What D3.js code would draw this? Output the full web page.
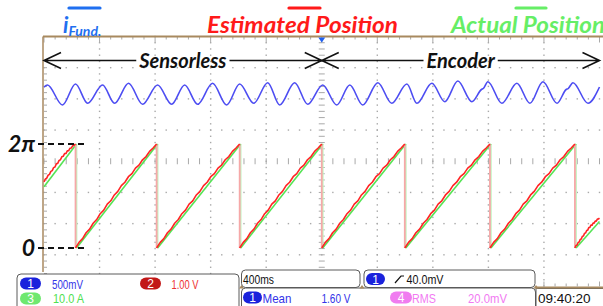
<!DOCTYPE html>
<html>
<head>
<meta charset="utf-8">
<script src="https://cdn.jsdelivr.net/npm/d3@7"></script>
<style>
  body { margin: 0; background: #fff; }
  svg { display: block; }
</style>
</head>
<body>
<script>
// time axis: 400 ms/div, trigger at centre
const timeDomain = [-2000, 2000];

// i_Fund. (ch1, 500 mV/div): extrema, [ms, V]
const currentPeaks = [
  [-1975, 1.222], [-1773, 1.238], [-1578, 1.222], [-1391, 1.250], [-1182, 1.222],
  [-987, 1.222], [-786, 1.250], [-591, 1.238], [-389, 1.259], [-195, 1.259],
  [7, 1.222], [202, 1.222], [404, 1.259], [613, 1.238], [793, 1.250],
  [980, 1.286], [1196, 1.275], [1405, 1.250], [1593, 1.275], [1809, 1.259]
];
const currentTroughs = [
  [-1867, 0.902], [-1686, 0.929], [-1492, 0.929], [-1290, 0.913], [-1081, 0.913],
  [-894, 0.913], [-685, 0.902], [-490, 0.929], [-303, 0.902], [-101, 0.913],
  [108, 0.902], [295, 0.902], [504, 0.929], [685, 0.929], [886, 0.955],
  [1081, 0.955], [1297, 0.929], [1499, 0.929], [1694, 0.929], [1917, 0.929]
];
const currentShoulders = [[1150, 1.15], [1165, 1.17], [1760, 1.15], [1774, 1.165]];
const currentEdges = [[-2000, 1.19], [2000, 1.19]];

// rotor position sawtooth: wrap instants (ms) and angles at screen edges (rad)
const estResets = [-1773, -1189, -591, 0, 598, 1211, 1823];
const actResets = [-1766, -1182, -584, 7, 605, 1218, 1831];
const estEdgeAngles = [4.0, 1.8];
const actEdgeAngles = [3.7, 1.6];
// small deviation of the estimate along each ramp (rad)
const estRipple = [0, 0.07, 0.02, 0.10, 0.05, 0.13, 0.08, 0.16, 0.10, 0.19, 0.12, 0.20,
  0.14, 0.22, 0.15, 0.21, 0.12, 0.18, 0.09, 0.14, 0.06, 0.10, 0.03, 0];

const angleLabels = [{ label: '0', v: 0 }, { label: '2π', v: 2 * Math.PI }];
const phases = [
  { name: 'Sensorless', from: -2000, to: 0 },
  { name: 'Encoder', from: 0, to: 2000 }
];
const legend = [
  { label: 'i', sub: 'Fund.', color: '#1f6ff0' },
  { label: 'Estimated Position', color: '#ff1a1a' },
  { label: 'Actual Position', color: '#66ee66' }
];
const chScales = [['1', '500mV'], ['2', '1.00 V'], ['3', '10.0 A']];
const timebase = '400ms';
const trigger = ['1', '40.0mV'];
const measures = [['1', 'Mean', '1.60 V'], ['4', 'RMS', '20.0mV']];
const clock = '09:40:20';

const W = 603, H = 306;
const frame = '#a8895f';
const grid = '#a9a9a9';
const col = { 1: '#1a22dc', 2: '#c21818', 3: '#6fe86f', 4: '#f07cf0' };
const txtCol = { 1: '#3434e8', 2: '#ee3030', 3: '#4fe04f', 4: '#f27af2' };
const FONT = "Lato, 'Open Sans', 'DejaVu Sans', sans-serif";
const PFONT = "'Liberation Sans', 'DejaVu Sans', sans-serif";

const plot = { left: 44, right: 599.5, top: 36.5, bottom: 286 };

const x = d3.scaleLinear().domain(timeDomain).range([plot.left, plot.right]);
const yDiv = d3.scaleLinear().domain([-4, 4]).range([plot.bottom, plot.top]);
const yCur = d3.scaleLinear().domain([-2, 2]).range([plot.bottom, plot.top]);
const yAng = d3.scaleLinear().domain([0, 2 * Math.PI]).range([248, 144]);

const svg = d3.select('body').append('svg')
  .attr('width', W)
  .attr('height', H)
  .style('font-family', FONT);

// ---- graticule
const majorX = d3.range(-2000, 2001, 400);
const minorX = d3.range(-2000, 2001, 80);
const majorY = d3.range(-4, 4.01, 1);
const minorY = d3.range(-4, 4.01, 0.2);

const g = svg.append('g');

majorX.filter(t => t !== 0 && t > -2000 && t < 2000).forEach(t => {
  g.selectAll(null).data(minorY).enter().append('rect')
    .attr('x', x(t) - 0.7).attr('y', d => yDiv(d) - 0.7)
    .attr('width', 1.4).attr('height', 1.4)
    .attr('fill', grid);
});
majorY.filter(v => v !== 0 && v > -4 && v < 4).forEach(v => {
  g.selectAll(null).data(minorX).enter().append('rect')
    .attr('x', d => x(d) - 0.7).attr('y', yDiv(v) - 0.7)
    .attr('width', 1.4).attr('height', 1.4)
    .attr('fill', grid);
});

// centre axes with minor ticks
g.selectAll(null).data(minorY).enter().append('line')
  .attr('x1', x(0) - 3).attr('x2', x(0) + 3)
  .attr('y1', d => yDiv(d)).attr('y2', d => yDiv(d))
  .attr('stroke', grid).attr('stroke-width', 1);
g.selectAll(null).data(minorX).enter().append('line')
  .attr('x1', d => x(d)).attr('x2', d => x(d))
  .attr('y1', yDiv(0) - 3).attr('y2', yDiv(0) + 3)
  .attr('stroke', grid).attr('stroke-width', 1);

// ticks hanging from top border and left border
g.selectAll(null).data(minorX).enter().append('line')
  .attr('x1', d => x(d)).attr('x2', d => x(d))
  .attr('y1', plot.top).attr('y2', d => plot.top + (d % 400 === 0 ? 6 : 3))
  .attr('stroke', grid);
g.selectAll(null).data(minorY.filter(v => v < 3.2)).enter().append('line')
  .attr('x1', plot.left).attr('x2', plot.left + 3)
  .attr('y1', d => yDiv(d)).attr('y2', d => yDiv(d))
  .attr('stroke', grid);

// frame
svg.append('line')
  .attr('x1', plot.left - 1).attr('x2', W)
  .attr('y1', plot.top).attr('y2', plot.top)
  .attr('stroke', frame).attr('stroke-width', 2);
svg.append('line')
  .attr('x1', plot.left - 1).attr('x2', plot.left - 1)
  .attr('y1', plot.top).attr('y2', 272)
  .attr('stroke', frame).attr('stroke-width', 1.5);

// trigger marker
svg.append('path')
  .attr('d', `M${x(0) - 3.5},${plot.top + 1}h7l-3.5,5z`)
  .attr('fill', '#2060f0');

// ---- position traces
function rampPoints(resets, edges, ripple) {
  const knots = [[timeDomain[0], edges[0]]];
  resets.forEach(t => { knots.push([t, 2 * Math.PI]); knots.push([t, 0]); });
  knots.push([timeDomain[1], edges[1]]);
  const ramps = [];
  for (let i = 0; i < knots.length; i += 2) {
    const [t0, a0] = knots[i], [t1, a1] = knots[i + 1];
    const pts = [];
    if (ripple) {
      ripple.forEach((r, k) => {
        const f = k / (ripple.length - 1);
        pts.push([t0 + f * (t1 - t0), a0 + f * (a1 - a0) + r]);
      });
    } else {
      pts.push([t0, a0], [t1, a1]);
    }
    ramps.push(pts);
  }
  return { ramps, drops: resets };
}

const line = d3.line().x(d => x(d[0])).y(d => yAng(d[1]));

function drawPosition(data, color, faint) {
  const gg = svg.append('g');
  gg.selectAll('line.drop').data(data.drops).enter().append('line')
    .attr('x1', d => x(d)).attr('x2', d => x(d))
    .attr('y1', yAng(2 * Math.PI)).attr('y2', yAng(0))
    .attr('stroke', faint).attr('stroke-width', 1.8);
  gg.selectAll('path').data(data.ramps).enter().append('path')
    .attr('d', line)
    .attr('fill', 'none')
    .attr('stroke', color)
    .attr('stroke-width', 1.6)
    .attr('stroke-linejoin', 'round');
}

drawPosition(rampPoints(actResets, actEdgeAngles, null), '#55e455', '#c4f5c4');
drawPosition(rampPoints(estResets, estEdgeAngles, estRipple), '#ff2424', '#f6a8a8');

// ---- current trace
const curPts = currentEdges.concat(currentPeaks, currentTroughs, currentShoulders)
  .sort((a, b) => a[0] - b[0]);
svg.append('path')
  .datum(curPts)
  .attr('d', d3.line().x(d => x(d[0])).y(d => yCur(d[1])).curve(d3.curveMonotoneX))
  .attr('fill', 'none')
  .attr('stroke', '#4d4df2')
  .attr('stroke-width', 1.6);

// ---- 0 / 2π annotations
angleLabels.forEach(a => {
  svg.append('line')
    .attr('x1', 38).attr('x2', 88)
    .attr('y1', yAng(a.v)).attr('y2', yAng(a.v))
    .attr('stroke', '#111').attr('stroke-width', 2)
    .attr('stroke-dasharray', '6,4');
  svg.append('text')
    .attr('x', 35).attr('y', yAng(a.v) + 8)
    .attr('text-anchor', 'end')
    .attr('font-size', 23).attr('font-weight', 'bold').attr('font-style', 'italic')
    .attr('fill', '#111')
    .text(a.label);
});

// ---- phase arrows
const arrowY = 60.5;
function head(xt, dir) {
  return `M${xt + dir * 17},${arrowY - 8}L${xt},${arrowY}L${xt + dir * 17},${arrowY + 8}`;
}
phases.forEach(p => {
  const x0 = x(p.from), x1 = x(p.to), xm = (x0 + x1) / 2;
  const t = svg.append('text')
    .attr('x', xm).attr('y', arrowY + 7)
    .attr('text-anchor', 'middle')
    .attr('font-size', 20).attr('font-weight', 'bold').attr('font-style', 'italic')
    .attr('fill', '#111')
    .text(p.name);
  const half = t.node().getComputedTextLength() / 2 + 3;
  svg.append('path')
    .attr('d', `M${x0},${arrowY}H${xm - half}M${xm + half},${arrowY}H${x1}` + head(x0, 1) + head(x1, -1))
    .attr('fill', 'none').attr('stroke', '#111').attr('stroke-width', 1.6);
});

// ---- legend
const lg = svg.append('g')
  .attr('font-weight', 'bold').attr('font-style', 'italic').attr('font-size', 22);
const legendPos = [{ x: 63, bar: [69, 100], len: null }, { x: 207, bar: [289, 320], len: 191 }, { x: 451, bar: [516, 546], len: 154 }];
legend.forEach((l, i) => {
  const p = legendPos[i];
  const t = lg.append('text').attr('x', p.x).attr('y', 33).attr('fill', l.color);
  t.append('tspan').text(l.label);
  if (l.sub) t.append('tspan').attr('font-size', 14).attr('dy', 3).text(l.sub);
  if (p.len) t.attr('textLength', p.len).attr('lengthAdjust', 'spacingAndGlyphs');
  lg.append('line')
    .attr('x1', p.bar[0]).attr('x2', p.bar[1])
    .attr('y1', 8).attr('y2', 8)
    .attr('stroke', l.color).attr('stroke-width', 3.2).attr('stroke-linecap', 'round');
});

// ---- status panel
const pn = svg.append('g').style('font-family', PFONT).attr('font-size', 13.5);

function box(x0, y0, w, h) {
  pn.append('rect')
    .attr('x', x0).attr('y', y0).attr('width', w).attr('height', h).attr('rx', 4)
    .attr('fill', '#fff').attr('stroke', '#5a5a5a').attr('stroke-width', 1);
}
function pill(x0, y0, ch, w) {
  pn.append('rect')
    .attr('x', x0).attr('y', y0).attr('width', w || 20).attr('height', 12).attr('rx', 6)
    .attr('fill', col[ch]);
  pn.append('text')
    .attr('x', x0 + (w || 20) / 2).attr('y', y0 + 10.5).attr('text-anchor', 'middle')
    .attr('fill', '#fff').attr('font-size', 12).text(ch);
}
// condensed scope font: squeeze horizontally only
function label(x0, y0, s, color, w) {
  const t = pn.append('text').attr('fill', color).text(s);
  const nat = t.node().getComputedTextLength();
  const k = w ? Math.min(1, w / nat) : 1;
  t.attr('transform', `translate(${x0},${y0}) scale(${k},1)`);
}

// bottom border right of panel
svg.append('line')
  .attr('x1', 536).attr('x2', W).attr('y1', 287.5).attr('y2', 287.5)
  .attr('stroke', frame).attr('stroke-width', 2);
svg.selectAll(null).data(minorX.filter(t => x(t) > 540)).enter().append('line')
  .attr('x1', d => x(d)).attr('x2', d => x(d))
  .attr('y1', 286.5).attr('y2', d => 286.5 - (d % 400 === 0 ? 5 : 3))
  .attr('stroke', grid);

const rowA = 288.5, rowB = 302.5;

box(17, 274, 222, 44);
pill(20, 277.5, chScales[0][0], 21);
label(52, rowA, chScales[0][1], txtCol[1], 31);
pill(140, 277.5, chScales[1][0], 21);
label(171.5, rowA, chScales[1][1], txtCol[2], 27);
pill(20, 292.5, chScales[2][0], 21);
label(53, rowB, chScales[2][1], txtCol[3], 31);

box(241.5, 270, 118.5, 17.5);
label(243, 283.5, timebase, '#111', 31);

box(364, 270, 171, 17.5);
pill(366, 273, trigger[0], 19);
pn.append('path')
  .attr('d', 'M395,283 L401,276 H404')
  .attr('fill', 'none').attr('stroke', '#111').attr('stroke-width', 1.2);
label(406.5, 283.5, trigger[1], '#111', 37);

box(241.5, 288, 294, 30);
pill(243, 291.5, measures[0][0], 19);
label(262.5, rowB, measures[0][1], txtCol[1], 29);
label(321.5, rowB, measures[0][2], txtCol[1], 29);
pill(390, 291.5, measures[1][0], 22);
label(412, rowB, measures[1][1], txtCol[4], 24);
label(468, rowB, measures[1][2], txtCol[4], 39);

pn.append('rect')
  .attr('x', 536).attr('y', 288.5).attr('width', 80).attr('height', 30)
  .attr('fill', '#fff').attr('stroke', '#5a5a5a');
label(538, rowB, clock, '#111', 57);

[241.5, 362, 536].forEach(xx => {
  svg.append('path')
    .attr('d', `M${xx - 2.5},${288.5}L${xx},${285}L${xx + 2.5},${288.5}z`)
    .attr('fill', frame);
});
</script>
</body>
</html>
